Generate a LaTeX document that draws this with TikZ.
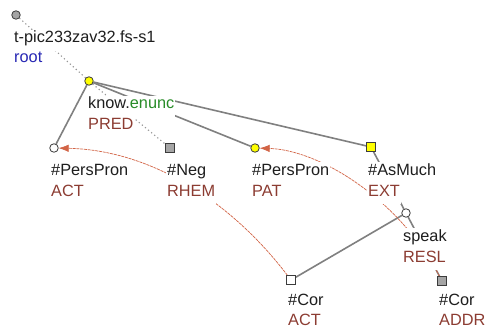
\documentclass[tikz,border=0pt]{standalone}
\usepackage{fontspec}
\setmainfont{Liberation Sans}
\usetikzlibrary{arrows.meta}
\definecolor{edgec}{RGB}{128,128,128}
\definecolor{dotc}{RGB}{150,150,150}
\definecolor{bordc}{RGB}{60,60,60}
\definecolor{corefc}{RGB}{210,100,70}
\definecolor{funcc}{RGB}{140,60,50}
\definecolor{rootc}{RGB}{40,40,180}
\definecolor{greenc}{RGB}{40,140,40}
\definecolor{textc}{RGB}{30,30,30}
\definecolor{grayfill}{RGB}{165,165,165}
\definecolor{yellowc}{RGB}{255,255,0}
\pgfdeclarelayer{edgelayer}
\pgfdeclarelayer{lablayer}
\pgfsetlayers{edgelayer,lablayer,main}
\tikzset{
  circmark/.style={circle, draw=bordc, line width=0.8pt, minimum size=8.5pt, inner sep=0pt},
  sqmark/.style={rectangle, draw=bordc, line width=0.8pt, minimum size=8.5pt, inner sep=0pt},
  lab/.style={anchor=base west, fill=white, inner xsep=1pt, inner ysep=0pt, text height=13pt, text depth=8pt, text=textc, font=\fontsize{16.3}{19}\selectfont},
  fun/.style={lab, text=funcc},
  edge/.style={draw=edgec, line width=1.6pt},
  dotedge/.style={draw=dotc, line width=1.1pt, dash pattern=on 1.2pt off 2.8pt},
  coref/.style={draw=corefc, line width=0.7pt, dash pattern=on 3pt off 0.8pt, -{Latex[length=10pt,width=7.5pt]}}
}
\begin{document}
\begin{tikzpicture}[x=1pt,y=-1pt]
\begin{pgfonlayer}{edgelayer}
\fill[white] (0,0) rectangle (485,329);
\end{pgfonlayer}
\useasboundingbox (0,0) rectangle (485,329);
% markers
\node[circmark, fill=grayfill] (root) at (16,15) {};
\node[circmark, fill=yellowc] (know) at (89,81) {};
\node[circmark, fill=white] (ppact) at (54,148) {};
\node[sqmark, fill=grayfill] (neg) at (170,148) {};
\node[circmark, fill=yellowc] (pppat) at (255,148) {};
\node[sqmark, fill=yellowc] (asmuch) at (371,147) {};
\node[circmark, fill=white] (speak) at (406,213) {};
\node[sqmark, fill=white] (coract) at (291,280) {};
\node[sqmark, fill=grayfill] (coraddr) at (442,281) {};
% labels
\begin{pgfonlayer}{lablayer}
\node[lab] (rootl1) at (13,43) {t-pic233zav32.fs-s1};
\node[lab, text=rootc] (rootl2) at (13,63) {root};
\node[lab] (knowl1) at (87,109) {know.\textcolor{greenc}{enunc}};
\node[fun] (knowl2) at (87,129) {PRED};
\node[lab] (ppactl1) at (50,175) {\#PersPron};
\node[fun] (ppactl2) at (50,196) {ACT};
\node[lab] (negl1) at (166,175) {\#Neg};
\node[fun] (negl2) at (166,196) {RHEM};
\node[lab] (pppatl1) at (251,175) {\#PersPron};
\node[fun] (pppatl2) at (251,196) {PAT};
\node[lab] (asmuchl1) at (367,175) {\#AsMuch};
\node[fun] (asmuchl2) at (367,196) {EXT};
\node[lab] (speakl1) at (402,241) {speak};
\node[fun] (speakl2) at (402,262) {RESL};
\node[lab] (coractl1) at (287,305) {\#Cor};
\node[fun] (coractl2) at (287,325) {ACT};
\node[lab] (coraddrl1) at (438,305) {\#Cor};
\node[fun] (coraddrl2) at (438,325) {ADDR};
\end{pgfonlayer}
% edges
\begin{pgfonlayer}{edgelayer}
\draw[dotedge] (root) -- (know);
\draw[dotedge] (know) -- (neg);
\draw[edge] (know) -- (ppact);
\draw[edge] (know) -- (pppat);
\draw[edge] (know) -- (asmuch);
\draw[edge] (asmuch) -- (speak);
\draw[edge] (speak) -- (coract);
\draw[edge] (speak) -- (coraddr);
\draw[coref] (coract) .. controls (230,200) and (150,150) .. (ppact);
\draw[coref] (coraddr) .. controls (400,200) and (320,150) .. (pppat);
\end{pgfonlayer}
\end{tikzpicture}
\end{document}
